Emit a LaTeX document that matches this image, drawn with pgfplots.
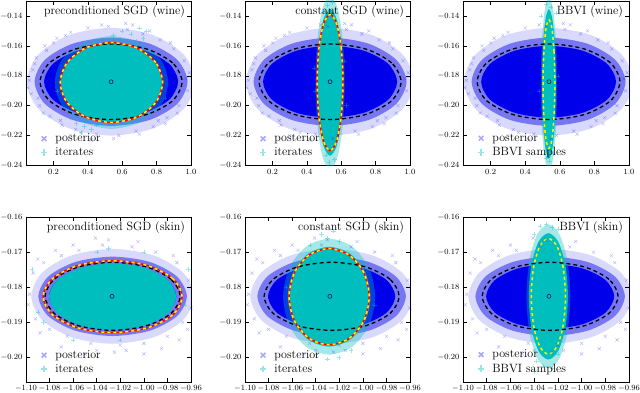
\documentclass[border=0pt]{standalone}
\usepackage{pgfplots}
\usepackage{pgfplotstable}
\pgfplotsset{compat=1.18}

\definecolor{postblue}{RGB}{0,0,235}
\definecolor{itcyan}{RGB}{0,190,190}
\definecolor{ctrnavy}{RGB}{10,20,90}

% ---------- top row (wine): posterior cloud, shared by the three panels
\pgfplotstableread{
x y
1.025 -0.184
0.959 -0.166
0.780 -0.1528
0.535 -0.148
0.290 -0.1528
0.111 -0.166
0.045 -0.184
0.111 -0.202
0.290 -0.2152
0.535 -0.220
0.780 -0.2152
0.959 -0.202
}\TopPostOuter
\pgfplotstableread{
x y
0.980 -0.184
0.920 -0.1693
0.758 -0.1585
0.535 -0.1545
0.313 -0.1585
0.150 -0.1693
0.090 -0.184
0.150 -0.1988
0.313 -0.2096
0.535 -0.2135
0.758 -0.2096
0.920 -0.1988
}\TopPostMid
\pgfplotstableread{
x y
0.925 -0.184
0.873 -0.172
0.730 -0.1632
0.535 -0.160
0.340 -0.1632
0.197 -0.172
0.145 -0.184
0.197 -0.196
0.340 -0.2048
0.535 -0.208
0.730 -0.2048
0.873 -0.196
}\TopPostCore
\pgfplotstableread{
x y
0.948 -0.184
0.893 -0.1714
0.742 -0.1621
0.535 -0.1587
0.329 -0.1621
0.177 -0.1714
0.122 -0.184
0.177 -0.1967
0.329 -0.2059
0.535 -0.2093
0.742 -0.2059
0.893 -0.1967
}\TopPostEll
\pgfplotstableread{
x y
0.06 -0.183
0.08 -0.176
0.07 -0.192
0.10 -0.168
0.12 -0.200
0.15 -0.160
0.18 -0.207
0.22 -0.155
0.25 -0.213
0.30 -0.151
0.33 -0.216
0.40 -0.148
0.45 -0.219
0.52 -0.147
0.58 -0.220
0.63 -0.149
0.68 -0.217
0.72 -0.152
0.78 -0.214
0.82 -0.156
0.86 -0.208
0.90 -0.162
0.93 -0.200
0.96 -0.170
0.98 -0.190
0.97 -0.182
0.66 -0.146
0.30 -0.220
0.85 -0.212
0.20 -0.158
0.09 -0.172
0.11 -0.195
0.14 -0.205
0.16 -0.163
0.27 -0.153
0.36 -0.218
0.48 -0.146
0.55 -0.222
0.70 -0.219
0.76 -0.150
0.88 -0.158
0.92 -0.205
0.99 -0.178
0.05 -0.188
0.42 -0.223
0.62 -0.145
0.24 -0.210
0.81 -0.210
}\TopPostPts

% preconditioned SGD (wine)
\pgfplotstableread{
x y
0.835 -0.1845
0.795 -0.1712
0.686 -0.1614
0.537 -0.1578
0.388 -0.1614
0.279 -0.1712
0.239 -0.1845
0.279 -0.1979
0.388 -0.2076
0.537 -0.2112
0.686 -0.2076
0.795 -0.1979
}\PwEll
\pgfplotstableread{
x y
0.867 -0.1845
0.823 -0.169
0.702 -0.1577
0.537 -0.1535
0.372 -0.1577
0.251 -0.169
0.207 -0.1845
0.251 -0.200
0.372 -0.2113
0.537 -0.2155
0.702 -0.2113
0.823 -0.200
}\PwFringe
\pgfplotstableread{
x y
0.55 -0.153
0.60 -0.150
0.65 -0.152
0.70 -0.148
0.72 -0.155
0.74 -0.150
0.68 -0.157
0.33 -0.212
0.38 -0.214
0.42 -0.216
0.30 -0.208
0.45 -0.213
0.36 -0.218
0.86 -0.170
0.22 -0.190
0.85 -0.195
}\PwPts

% constant SGD (wine)
\pgfplotstableread{
x y
0.610 -0.1845
0.600 -0.1618
0.5725 -0.1451
0.535 -0.139
0.4975 -0.1451
0.470 -0.1618
0.460 -0.1845
0.470 -0.2073
0.4975 -0.2239
0.535 -0.230
0.5725 -0.2239
0.600 -0.2073
}\CwEll
\pgfplotstableread{
x y
0.612 -0.1845
0.6017 -0.160
0.5735 -0.1421
0.535 -0.1355
0.4965 -0.1421
0.4683 -0.160
0.458 -0.1845
0.4683 -0.209
0.4965 -0.2269
0.535 -0.2335
0.5735 -0.2269
0.6017 -0.209
}\CwCore
\pgfplotstableread{
x y
0.620 -0.1845
0.6086 -0.1555
0.5775 -0.1343
0.535 -0.1265
0.4925 -0.1343
0.4614 -0.1555
0.450 -0.1845
0.4614 -0.2135
0.4925 -0.2347
0.535 -0.2425
0.5775 -0.2347
0.6086 -0.2135
}\CwFringe
\pgfplotstableread{
x y
0.52 -0.133
0.55 -0.131
0.50 -0.137
0.56 -0.236
0.53 -0.238
0.51 -0.233
0.45 -0.190
0.62 -0.170
0.44 -0.175
0.63 -0.200
}\CwPts

% BBVI (wine)
\pgfplotstableread{
x y
0.571 -0.1855
0.5664 -0.164
0.554 -0.1483
0.537 -0.1425
0.520 -0.1483
0.5076 -0.164
0.503 -0.1855
0.5076 -0.207
0.520 -0.2227
0.537 -0.2285
0.554 -0.2227
0.5664 -0.207
}\BwEll
\pgfplotstableread{
x y
0.577 -0.1855
0.5716 -0.1605
0.557 -0.1422
0.537 -0.1355
0.517 -0.1422
0.5024 -0.1605
0.497 -0.1855
0.5024 -0.2105
0.517 -0.2288
0.537 -0.2355
0.557 -0.2288
0.5716 -0.2105
}\BwCore
\pgfplotstableread{
x y
0.584 -0.1855
0.5777 -0.1565
0.5605 -0.1353
0.537 -0.1275
0.5135 -0.1353
0.4963 -0.1565
0.490 -0.1855
0.4963 -0.2145
0.5135 -0.2357
0.537 -0.2435
0.5605 -0.2357
0.5777 -0.2145
}\BwFringe
\pgfplotstableread{
x y
0.52 -0.132
0.55 -0.134
0.49 -0.140
0.58 -0.138
0.54 -0.237
0.52 -0.235
0.56 -0.232
0.48 -0.190
0.59 -0.180
}\BwPts

% ---------- bottom row (skin): posterior cloud, shared
\pgfplotstableread{
x y
-0.9575 -0.1826
-0.96675 -0.17585
-0.992 -0.17091
-1.0265 -0.1691
-1.061 -0.17091
-1.08625 -0.17585
-1.0955 -0.1826
-1.08625 -0.18935
-1.061 -0.19429
-1.0265 -0.1961
-0.992 -0.19429
-0.96675 -0.18935
}\BotPostOuter
\pgfplotstableread{
x y
-0.9635 -0.1826
-0.97194 -0.17695
-0.995 -0.17281
-1.0265 -0.1713
-1.058 -0.17281
-1.08106 -0.17695
-1.0895 -0.1826
-1.08106 -0.18825
-1.058 -0.19239
-1.0265 -0.1939
-0.995 -0.19239
-0.97194 -0.18825
}\BotPostMid
\pgfplotstableread{
x y
-0.9725 -0.1826
-0.97974 -0.178
-0.9995 -0.17463
-1.0265 -0.1734
-1.0535 -0.17463
-1.07326 -0.178
-1.0805 -0.1826
-1.07326 -0.1872
-1.0535 -0.19057
-1.0265 -0.1918
-0.9995 -0.19057
-0.97974 -0.1872
}\BotPostCore
\pgfplotstableread{
x y
-0.9692 -0.1826
-0.9769 -0.17775
-0.9979 -0.1742
-1.0265 -0.1729
-1.0552 -0.1742
-1.0761 -0.17775
-1.0838 -0.1826
-1.0761 -0.18745
-1.0552 -0.191
-1.0265 -0.1923
-0.9979 -0.191
-0.9769 -0.18745
}\BotPostEll
\pgfplotstableread{
x y
-1.097 -0.182
-1.094 -0.176
-1.092 -0.189
-1.085 -0.173
-1.080 -0.192
-1.070 -0.171
-1.065 -0.194
-1.055 -0.1695
-1.045 -0.196
-1.035 -0.168
-1.020 -0.1965
-1.010 -0.1685
-1.000 -0.196
-0.990 -0.170
-0.980 -0.194
-0.972 -0.173
-0.967 -0.190
-0.962 -0.178
-0.960 -0.186
-1.041 -0.166
-1.015 -0.198
-1.050 -0.199
-0.985 -0.1975
-1.075 -0.1695
-1.098 -0.185
-1.090 -0.172
-1.088 -0.193
-1.060 -0.168
-1.030 -0.1665
-1.005 -0.167
-0.975 -0.171
-0.963 -0.192
-0.970 -0.195
-1.070 -0.197
-1.000 -0.199
-1.040 -0.198
-0.958 -0.182
-1.025 -0.1985
}\BotPostPts

% preconditioned SGD (skin)
\pgfplotstableread{
x y
-0.9675 -0.1827
-0.9754 -0.17758
-0.997 -0.17382
-1.0265 -0.17245
-1.056 -0.17382
-1.0776 -0.17758
-1.0855 -0.1827
-1.0776 -0.18783
-1.056 -0.19158
-1.0265 -0.19295
-0.997 -0.19158
-0.9754 -0.18783
}\PsEll
\pgfplotstableread{
x y
-0.9725 -0.1827
-0.97974 -0.17795
-0.9995 -0.17447
-1.0265 -0.1732
-1.0535 -0.17447
-1.07326 -0.17795
-1.0805 -0.1827
-1.07326 -0.18745
-1.0535 -0.19093
-1.0265 -0.1922
-0.9995 -0.19093
-0.97974 -0.18745
}\PsCore
\pgfplotstableread{
x y
-1.090 -0.187
-1.085 -0.190
-0.965 -0.185
-1.030 -0.169
-1.040 -0.170
-1.020 -0.195
-1.095 -0.175
-0.962 -0.175
-1.060 -0.195
-1.000 -0.170
}\PsPts

% constant SGD (skin)
\pgfplotstableread{
x y
-0.9946 -0.1827
-0.99916 -0.17585
-1.0116 -0.17084
-1.0286 -0.169
-1.0456 -0.17084
-1.05804 -0.17585
-1.0626 -0.1827
-1.05804 -0.18955
-1.0456 -0.19456
-1.0286 -0.1964
-1.0116 -0.19456
-0.99916 -0.18955
}\CsEll
\pgfplotstableread{
x y
-0.9936 -0.1827
-0.99829 -0.1756
-1.0111 -0.1704
-1.0286 -0.1685
-1.0461 -0.1704
-1.05891 -0.1756
-1.0636 -0.1827
-1.05891 -0.1898
-1.0461 -0.195
-1.0286 -0.1969
-1.0111 -0.195
-0.99829 -0.1898
}\CsCore
\pgfplotstableread{
x y
-0.9896 -0.1827
-0.99483 -0.17445
-1.0091 -0.16841
-1.0286 -0.1662
-1.0481 -0.16841
-1.06237 -0.17445
-1.0676 -0.1827
-1.06237 -0.19095
-1.0481 -0.19699
-1.0286 -0.1992
-1.0091 -0.19699
-0.99483 -0.19095
}\CsFringe
\pgfplotstableread{
x y
-1.030 -0.166
-1.025 -0.164
-1.035 -0.165
-1.020 -0.167
-1.040 -0.199
-1.020 -0.200
-1.010 -0.198
-1.065 -0.180
-0.990 -0.185
-1.030 -0.2005
-1.045 -0.168
}\CsPts

% BBVI (skin)
\pgfplotstableread{
x y
-1.0136 -0.1826
-1.01553 -0.17435
-1.0208 -0.16831
-1.028 -0.1661
-1.0352 -0.16831
-1.04047 -0.17435
-1.0424 -0.1826
-1.04047 -0.19085
-1.0352 -0.19689
-1.028 -0.1991
-1.0208 -0.19689
-1.01553 -0.19085
}\BsEll
\pgfplotstableread{
x y
-1.0115 -0.1826
-1.01371 -0.1736
-1.01975 -0.16701
-1.028 -0.1646
-1.03625 -0.16701
-1.04229 -0.1736
-1.0445 -0.1826
-1.04229 -0.1916
-1.03625 -0.19819
-1.028 -0.2006
-1.01975 -0.19819
-1.01371 -0.1916
}\BsCore
\pgfplotstableread{
x y
-1.0095 -0.1826
-1.01198 -0.17235
-1.01875 -0.16485
-1.028 -0.1621
-1.03725 -0.16485
-1.04402 -0.17235
-1.0465 -0.1826
-1.04402 -0.19285
-1.03725 -0.20035
-1.028 -0.2031
-1.01875 -0.20035
-1.01198 -0.19285
}\BsFringe
\pgfplotstableread{
x y
-1.030 -0.162
-1.035 -0.1625
-1.025 -0.163
-1.040 -0.165
-1.020 -0.1635
-1.032 -0.2025
-1.025 -0.203
-1.038 -0.201
-1.020 -0.199
-1.040 -0.204
}\BsPts

\pgfplotsset{
  panel/.style={
    scale only axis, width=165pt, anchor=north west,
    scaled ticks=false,
    tick align=inside, major tick length=4pt,
    tick style={black, line width=0.5pt},
    axis line style={line width=0.7pt},
    ticklabel style={font=\fontsize{8.5}{9}\selectfont},
    legend style={at={(0.07,0.025)}, anchor=south west, draw=none, fill=none,
      font=\large, row sep=0.5pt,
      /tikz/every odd column/.append style={column sep=6pt}},
    legend cell align=left,
  },
  toprow/.style={panel, height=164.5pt,
    xmin=0.04, xmax=1.0, ymin=-0.24, ymax=-0.13,
    xtick={0.2,0.4,0.6,0.8,1.0},
    ytick={-0.24,-0.22,-0.20,-0.18,-0.16,-0.14},
    xticklabel style={/pgf/number format/.cd,fixed,fixed zerofill,precision=1},
    yticklabel style={/pgf/number format/.cd,fixed,fixed zerofill,precision=2},
  },
  botrow/.style={panel, height=165pt,
    xmin=-1.10, xmax=-0.96, ymin=-0.207, ymax=-0.16,
    xtick={-1.10,-1.08,-1.06,-1.04,-1.02,-1.00,-0.98,-0.96},
    ytick={-0.20,-0.19,-0.18,-0.17,-0.16},
    xticklabel style={/pgf/number format/.cd,fixed,fixed zerofill,precision=2},
    yticklabel style={/pgf/number format/.cd,fixed,fixed zerofill,precision=2},
  },
  blob/.style={smooth cycle, draw=none, forget plot},
  postpts/.style={only marks, mark=x, mark size=2.2pt, blue, opacity=0.3, forget plot},
  itpts/.style={only marks, mark=+, mark size=2.2pt, itcyan, opacity=0.4, forget plot},
  postell/.style={smooth cycle, black, line width=1.3pt, dash pattern=on 4pt off 3pt, forget plot},
  redell/.style={smooth cycle, red, line width=1.5pt, forget plot},
  yelell/.style={smooth cycle, yellow, line width=1.5pt, dash pattern=on 3pt off 3pt, forget plot},
  ctr/.style={only marks, mark=o, mark size=2pt, ctrnavy, mark options={line width=0.6pt}, forget plot},
  legpost/.style={only marks, mark=x, mark size=3.3pt, blue!35, mark options={line width=1.5pt}},
  legit/.style={only marks, mark=+, mark size=3.3pt, itcyan!40, mark options={line width=1.5pt}},
}

\newcommand{\toppost}{%
  \addplot[postpts] table {\TopPostPts};
  \addplot[blob, fill=postblue, fill opacity=0.15] table {\TopPostOuter};
  \addplot[blob, fill=postblue, fill opacity=0.45] table {\TopPostMid};
  \addplot[blob, fill=postblue] table {\TopPostCore};
}
\newcommand{\botpost}{%
  \addplot[postpts] table {\BotPostPts};
  \addplot[blob, fill=postblue, fill opacity=0.15] table {\BotPostOuter};
  \addplot[blob, fill=postblue, fill opacity=0.45] table {\BotPostMid};
  \addplot[blob, fill=postblue] table {\BotPostCore};
}

\begin{document}
\begin{tikzpicture}
\path[use as bounding box] (0,0) rectangle (640pt,-393pt);

% ---------------- preconditioned SGD (wine)
\begin{axis}[toprow, at={(26pt,-1pt)}]
\addlegendimage{legpost}\addlegendentry{posterior}
\addlegendimage{legit}\addlegendentry{iterates}
\toppost
\addplot[itpts] table {\PwPts};
\addplot[blob, fill=itcyan, fill opacity=0.35] table {\PwFringe};
\addplot[blob, fill=itcyan] table {\PwEll};
\addplot[postell] table {\TopPostEll};
\addplot[redell] table {\PwEll};
\addplot[yelell] table {\PwEll};
\addplot[ctr] coordinates {(0.535,-0.184)};
\node[anchor=north east, font=\large] at (rel axis cs:0.985,0.995) {preconditioned SGD (wine)};
\end{axis}

% ---------------- constant SGD (wine)
\begin{axis}[toprow, at={(245pt,-1pt)}]
\addlegendimage{legpost}\addlegendentry{posterior}
\addlegendimage{legit}\addlegendentry{iterates}
\toppost
\addplot[itpts] table {\CwPts};
\addplot[blob, fill=itcyan, fill opacity=0.35] table {\CwFringe};
\addplot[blob, fill=itcyan] table {\CwCore};
\addplot[postell] table {\TopPostEll};
\addplot[redell] table {\CwEll};
\addplot[yelell] table {\CwEll};
\addplot[ctr] coordinates {(0.535,-0.184)};
\node[anchor=north east, font=\large] at (rel axis cs:0.985,0.995) {constant SGD (wine)};
\end{axis}

% ---------------- BBVI (wine)
\begin{axis}[toprow, at={(463pt,-1pt)}, width=166pt]
\addlegendimage{legpost}\addlegendentry{posterior}
\addlegendimage{legit}\addlegendentry{BBVI samples}
\toppost
\addplot[itpts] table {\BwPts};
\addplot[blob, fill=itcyan, fill opacity=0.35] table {\BwFringe};
\addplot[blob, fill=itcyan] table {\BwCore};
\addplot[postell] table {\TopPostEll};
\addplot[yelell] table {\BwEll};
\addplot[ctr] coordinates {(0.537,-0.184)};
\node[anchor=north east, font=\large] at (rel axis cs:0.985,0.995) {BBVI (wine)};
\end{axis}

% ---------------- preconditioned SGD (skin)
\begin{axis}[botrow, at={(26pt,-217pt)}]
\addlegendimage{legpost}\addlegendentry{posterior}
\addlegendimage{legit}\addlegendentry{iterates}
\botpost
\addplot[itpts] table {\PsPts};
\addplot[blob, fill=itcyan] table {\PsCore};
\addplot[postell] table {\BotPostEll};
\addplot[redell] table {\PsEll};
\addplot[yelell] table {\PsEll};
\addplot[ctr] coordinates {(-1.027,-0.1826)};
\node[anchor=north east, font=\large] at (rel axis cs:0.985,0.995) {preconditioned SGD (skin)};
\end{axis}

% ---------------- constant SGD (skin)
\begin{axis}[botrow, at={(245pt,-217pt)}]
\addlegendimage{legpost}\addlegendentry{posterior}
\addlegendimage{legit}\addlegendentry{iterates}
\botpost
\addplot[itpts] table {\CsPts};
\addplot[blob, fill=itcyan, fill opacity=0.35] table {\CsFringe};
\addplot[blob, fill=itcyan] table {\CsCore};
\addplot[postell] table {\BotPostEll};
\addplot[redell] table {\CsEll};
\addplot[yelell] table {\CsEll};
\addplot[ctr] coordinates {(-1.028,-0.1826)};
\node[anchor=north east, font=\large] at (rel axis cs:0.985,0.995) {constant SGD (skin)};
\end{axis}

% ---------------- BBVI (skin)
\begin{axis}[botrow, at={(463pt,-217pt)}, width=166pt]
\addlegendimage{legpost}\addlegendentry{posterior}
\addlegendimage{legit}\addlegendentry{BBVI samples}
\botpost
\addplot[itpts] table {\BsPts};
\addplot[blob, fill=itcyan, fill opacity=0.35] table {\BsFringe};
\addplot[blob, fill=itcyan] table {\BsCore};
\addplot[postell] table {\BotPostEll};
\addplot[yelell] table {\BsEll};
\addplot[ctr] coordinates {(-1.0275,-0.1826)};
\node[anchor=north east, font=\large] at (rel axis cs:0.985,0.995) {BBVI (skin)};
\end{axis}
\end{tikzpicture}
\end{document}
